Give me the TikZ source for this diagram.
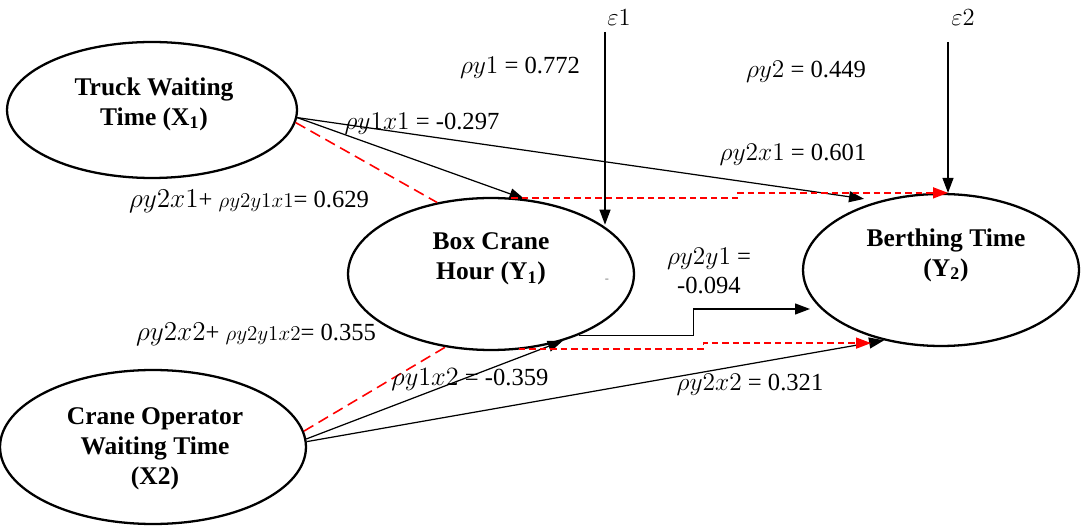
\documentclass[tikz,border=0pt]{standalone}
\usepackage{fix-cm}
\usepackage{fontspec}
\setmainfont{Liberation Serif}
\usetikzlibrary{shapes.geometric, arrows.meta}

\begin{document}
\begin{tikzpicture}[x=0.02cm, y=-0.02cm,
    every node/.style={font=\fontsize{14}{16}\selectfont},
    var/.style={draw, ellipse, line width=1.3pt, inner sep=0pt},
    vartext/.style={font=\fontsize{14.5}{17}\selectfont\bfseries, align=center},
    effect/.style={line width=0.7pt, -{Triangle[length=0.3cm, width=0.22cm]}},
    indirect/.style={red, line width=0.9pt, dash pattern=on 0.22cm off 0.12cm},
    indirectto/.style={red, line width=0.9pt, dash pattern=on 0.13cm off 0.08cm,
      -{Triangle[length=0.3cm, width=0.22cm]}},
    coef/.style={inner sep=1pt}]
    \useasboundingbox (0,0) rectangle (1081,526);

    \node[var, minimum width=5.8cm, minimum height=2.72cm] (x1) at (152,110) {};
    \node[vartext] (x1txt) at (154,104) {Truck Waiting\\Time (X\textsubscript{1})};
    \node[var, minimum width=6.12cm, minimum height=3.08cm] (x2) at (153,447) {};
    \node[vartext] (x2txt) at (155,449) {Crane Operator\\Waiting Time\\(X2)};
    \node[var, minimum width=5.72cm, minimum height=3.04cm] (y1) at (491,274) {};
    \node[vartext] (y1txt) at (491,259) {Box Crane\\Hour (Y\textsubscript{1})};
    \node[var, minimum width=5.52cm, minimum height=3.04cm] (y2) at (941,270) {};
    \node[vartext] (y2txt) at (946,255) {Berthing Time\\(Y\textsubscript{2})};
    \node[text=gray, font=\scriptsize] (dash) at (607,281) {-};

    \node (e1) at (619,18) {$\varepsilon 1$};
    \node (e2) at (963,18) {$\varepsilon 2$};
    \coordinate (e1top) at (605,32);
    \coordinate (e2top) at (948,42);

    \draw[effect] (e1top) -- (e1top |- y1.24);
    \draw[effect] (e2top) -- (y2.north -| e2top);
    \draw[effect] (x1.-3) -- (y1.66);
    \draw[effect, shorten >=0.3cm] (x1.-3) -- (y2.132);
    \draw[effect] (x2.3) -- (y1.-43);
    \draw[effect] (x2.2) -- (y2.-129);
    \draw[effect, shorten >=0.22cm] (y1.-35) -- ++(115,0) |- (y2.-162);

    \draw[indirect] (x1.-5) -- (y1.127);
    \draw[indirectto] ([yshift=-0.01cm]y1.75) -- ++(226,0) |- (y2.north -| e2top);
    \draw[indirect] (x2.6) -- (y1.-122);
    \draw[indirectto] ([yshift=0.01cm]y1.-70) -- ++(185,0) |- ([xshift=-0.26cm, yshift=-0.055cm]y2.-129);

    \node[coef] (py1) at (520,68) {{\fontsize{14.5}{16}\selectfont$\rho y1$} = 0.772};
    \node[coef] (py2) at (806,72) {{\fontsize{14.5}{16}\selectfont$\rho y2$} = 0.449};
    \node[coef] (py1x1) at (422,124) {{\fontsize{14.5}{16}\selectfont$\rho y1x1$} = -0.297};
    \node[coef] (py2x1) at (793,155) {{\fontsize{14.5}{16}\selectfont$\rho y2x1$} = 0.601};
    \node[coef] (ind1) at (249,201) {{\fontsize{15.5}{16}\selectfont$\rho y2x1$}+ {\fontsize{12}{13}\selectfont$\rho y2y1x1$}= 0.629};
    \node[coef, align=center] (py2y1) at (709,271) {{\fontsize{14.5}{16}\selectfont$\rho y2y1$} =\\-0.094};
    \node[coef] (ind2) at (256,334) {{\fontsize{15.5}{16}\selectfont$\rho y2x2$}+ {\fontsize{12}{13}\selectfont$\rho y2y1x2$}= 0.355};
    \node[coef] (py1x2) at (470,380) {{\fontsize{15}{16}\selectfont$\rho y1x2$} = -0.359};
    \node[coef] (py2x2) at (750,385) {{\fontsize{14.5}{16}\selectfont$\rho y2x2$} = 0.321};
\end{tikzpicture}
\end{document}
